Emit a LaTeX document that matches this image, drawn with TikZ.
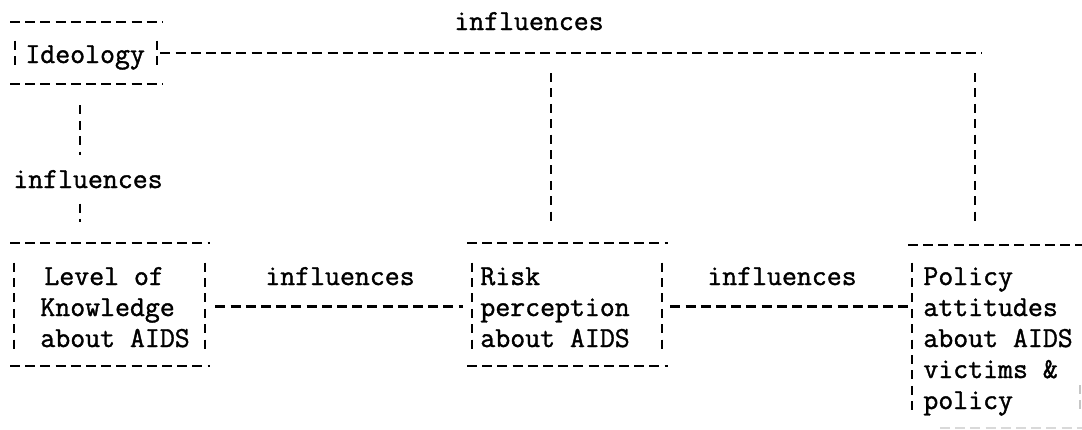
\documentclass[tikz,border=0pt]{standalone}
\usepackage{fontspec}
\setmonofont{Latin Modern Mono}[FakeBold=1.3]
\usetikzlibrary{positioning}
\begin{document}
\begin{tikzpicture}[x=0.5pt, y=-0.5pt,
		typed/.style={font=\fontsize{14.5}{15.5}\selectfont\ttfamily, inner sep=0pt, align=left},
		hdash/.style={line width=1.1pt, dash pattern=on 5pt off 2.6pt},
		vdash/.style={line width=1pt, dash pattern=on 4.5pt off 3.2pt},
		frame/.style 2 args={inner sep=0pt, minimum width=#1, minimum height=#2}]
	\useasboundingbox (0,0) rectangle (1082,429);
	% area between the side bars of each box
	\node[frame={71pt}{12pt}] (ideo) at (86,53) {};
	\node[frame={95.5pt}{43.5pt}] (know) at (109.5,306.5) {};
	\node[frame={95pt}{43.5pt}] (risk) at (567,306.5) {};
	\node[frame={84pt}{73.5pt}] (policy) at (996,336.5) {};
	% texts (anchor is the baseline of the last line)
	\node[typed, anchor=base west] (ideotxt) at (25,63) {Ideology};
	\node[typed, anchor=base west] (knowtxt) at (40,347) {\hspace*{2pt}Level of\\Knowledge\\about AIDS};
	\node[typed, anchor=base west] (risktxt) at (480,347) {Risk\\perception\\about AIDS};
	\node[typed, anchor=base west] (policytxt) at (923,409) {Policy\\attitudes\\about AIDS\\victims \&\\policy};
	\node[typed, anchor=base] (infTop) at (529,30) {influences};
	\node[typed, anchor=base] (infL) at (88,188) {influences};
	\node[typed, anchor=base] (infM1) at (340,285) {influences};
	\node[typed, anchor=base] (infM2) at (782,285) {influences};
	% frames
	\draw[hdash] (10,22) -- (163,22);
	\draw[hdash] (10,84) -- (163,84);
	\draw[vdash] (ideo.north west) -- (ideo.south west);
	\draw[vdash] (ideo.north east) -- (ideo.south east);
	\draw[hdash] (10,243) -- (210,243);
	\draw[hdash] (10,366) -- (210,366);
	\draw[vdash] (know.north west) -- (know.south west);
	\draw[vdash] (know.north east) -- (know.south east);
	\draw[hdash] (467,243) -- (668,243);
	\draw[hdash] (467,366) -- (668,366);
	\draw[vdash] (risk.north west) -- (risk.south west);
	\draw[vdash] (risk.north east) -- (risk.south east);
	\draw[hdash] (908,245) -- (1082,245);
	\draw[vdash] (policy.north west) -- (policy.south west);
	\draw[vdash, gray!45] (1080,385) -- (1080,410);
	\draw[hdash, gray!30] (940,428) -- (1082,428);
	% connectors
	\coordinate (t1) at (551,53);
	\coordinate (t2) at (975,53);
	\draw[hdash, shorten <=1.5pt] (ideo.east) -- ([xshift=3.5pt]t2);
	\draw[vdash, shorten <=10pt, shorten >=20pt] (t1) -- (t1 |- risk.north);
	\draw[vdash, shorten <=10pt, shorten >=20pt] (t2) -- (t2 |- policy.north);
	\draw[vdash, shorten <=20pt, shorten >=7.5pt] ([xshift=-3pt]ideo.south) -- ([xshift=-3pt]ideo.south |- infL.north);
	\draw[vdash, shorten <=7.5pt, shorten >=20.5pt] ([xshift=-3pt]ideo.south |- infL.south) -- ([xshift=-3pt]ideo.south |- know.north);
	\draw[hdash, shorten <=5pt, shorten >=4.5pt] (know.east) -- (risk.west);
	\draw[hdash, shorten <=4pt, shorten >=2pt] (risk.east) -- (risk.east -| policy.west);
\end{tikzpicture}
\end{document}
